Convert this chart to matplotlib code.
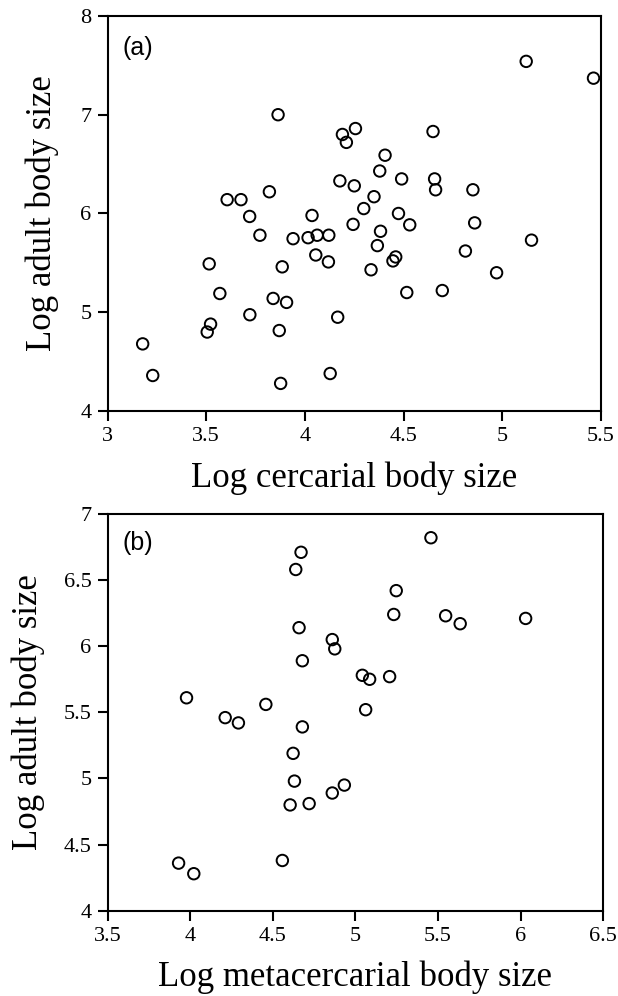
import matplotlib
matplotlib.use('Agg')
import matplotlib.pyplot as plt

# panel (a): cercarial vs adult
cerc_x = [3.864, 4.19, 4.21, 4.256, 4.177, 4.25, 3.606, 3.676, 3.82, 3.72,
          4.036, 4.244, 5.121, 5.462, 4.649, 4.406, 4.379, 4.49, 4.657, 4.662,
          4.851, 4.35, 4.298, 4.474, 4.531, 4.86, 4.383, 3.772, 3.94, 4.016,
          4.062, 4.121, 4.055, 4.119, 3.515, 3.885, 3.569, 3.839, 3.907, 3.721,
          4.166, 3.522, 3.505, 3.87, 3.178, 3.229, 3.877, 4.128, 5.148, 4.367,
          4.813, 4.46, 4.446, 4.335, 4.971, 4.516, 4.696]
cerc_y = [7.00, 6.80, 6.72, 6.86, 6.33, 6.28, 6.14, 6.14, 6.22, 5.97,
          5.98, 5.89, 7.54, 7.37, 6.83, 6.59, 6.43, 6.35, 6.35, 6.24,
          6.24, 6.17, 6.05, 6.00, 5.885, 5.905, 5.82, 5.78, 5.745, 5.755,
          5.78, 5.78, 5.58, 5.51, 5.49, 5.46, 5.19, 5.14, 5.10, 4.975,
          4.95, 4.88, 4.80, 4.815, 4.68, 4.36, 4.28, 4.38, 5.73, 5.675,
          5.62, 5.56, 5.52, 5.43, 5.40, 5.20, 5.22]

# panel (b): metacercarial vs adult
meta_x = [4.671, 4.639, 4.659, 4.86, 4.875, 4.679, 3.978, 4.458, 4.212, 4.292,
          5.457, 5.247, 5.232, 5.546, 5.634, 6.03, 5.042, 5.086, 5.207, 5.062,
          4.679, 4.623, 4.631, 4.605, 4.72, 4.86, 4.933, 3.93, 4.022, 4.558]
meta_y = [6.71, 6.58, 6.14, 6.05, 5.98, 5.89, 5.61, 5.56, 5.46, 5.42,
          6.82, 6.42, 6.24, 6.23, 6.17, 6.21, 5.78, 5.75, 5.77, 5.52,
          5.39, 5.19, 4.98, 4.80, 4.81, 4.89, 4.95, 4.36, 4.28, 4.38]

a_xticks = [3, 3.5, 4, 4.5, 5, 5.5]
a_yticks = [4, 5, 6, 7, 8]
b_xticks = [3.5, 4, 4.5, 5, 5.5, 6, 6.5]
b_yticks = [4, 4.5, 5, 5.5, 6, 6.5, 7]

plt.rcParams['font.family'] = ['Liberation Serif', 'DejaVu Serif']

fig = plt.figure(figsize=(6.18, 9.96), dpi=100)
ax1 = fig.add_axes([0.174, 0.5873, 0.7985, 0.3967])
ax2 = fig.add_axes([0.174, 0.0856, 0.8022, 0.3984])


def style(ax, xt, yt, xlab, tag, tag_y, ylpad):
    ax.set_xticks(xt)
    ax.set_yticks(yt)
    ax.set_xticklabels([('%g' % v) for v in xt])
    ax.set_yticklabels([('%g' % v) for v in yt])
    ax.set_xlim(xt[0], xt[-1])
    ax.set_ylim(yt[0], yt[-1])
    for s in ax.spines.values():
        s.set_linewidth(1.5)
    ax.tick_params(direction='out', length=7.5, width=1.5, labelsize=16, pad=4)
    ax.set_xlabel(xlab, fontsize=25, labelpad=11)
    ax.set_ylabel('Log adult body size', fontsize=25, labelpad=ylpad)
    ax.text(0.031, tag_y, tag, transform=ax.transAxes, fontsize=18,
            family='Liberation Sans', va='center', ha='left')


ax1.scatter(cerc_x, cerc_y, s=68, facecolors='none', edgecolors='black',
            linewidths=1.4, clip_on=False, zorder=3)
style(ax1, a_xticks, a_yticks, 'Log cercarial body size', '(a)', 0.919, 15.5)

ax2.scatter(meta_x, meta_y, s=68, facecolors='none', edgecolors='black',
            linewidths=1.4, clip_on=False, zorder=3)
style(ax2, b_xticks, b_yticks, 'Log metacercarial body size', '(b)', 0.927, 13.5)

fig.savefig('out.png', dpi=100)
